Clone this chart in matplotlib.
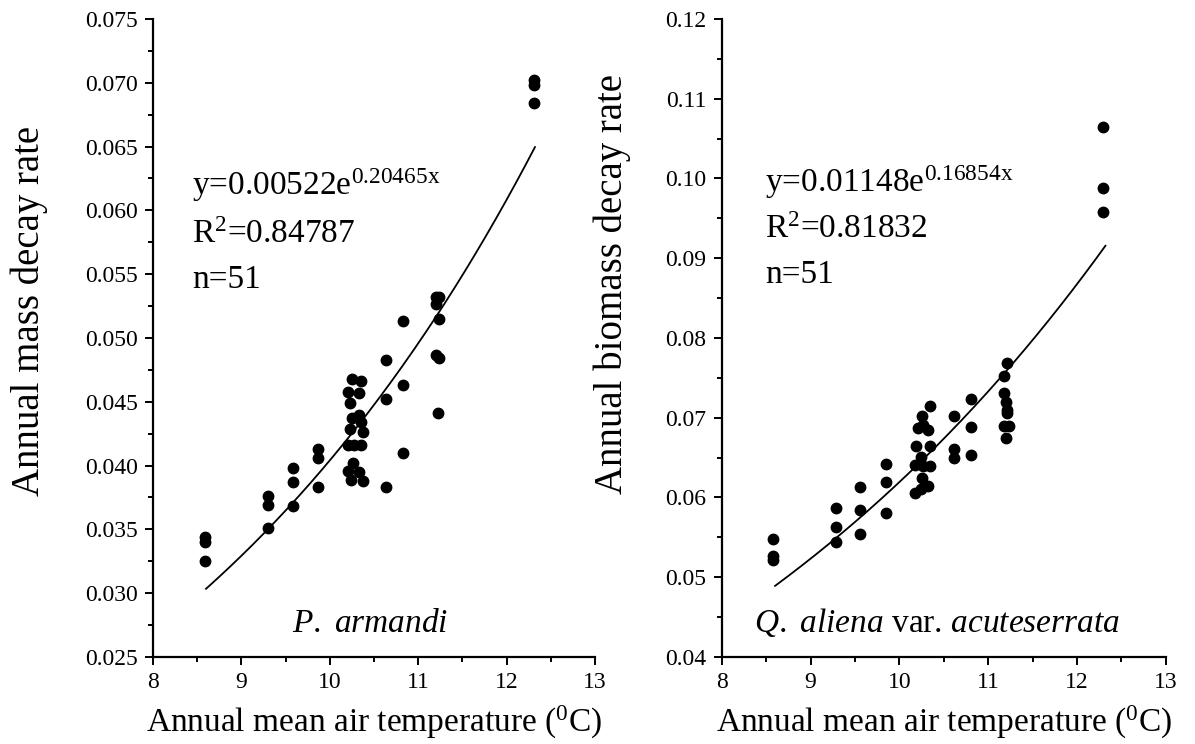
import matplotlib
matplotlib.use("Agg")
import matplotlib.pyplot as plt
import numpy as np

plt.rcParams['font.family'] = ['Liberation Serif', 'DejaVu Serif']
plt.rcParams['mathtext.fontset'] = 'custom'
plt.rcParams['mathtext.rm'] = 'Liberation Serif'
plt.rcParams['mathtext.it'] = 'Liberation Serif:italic'
plt.rcParams['mathtext.default'] = 'regular'

# P. armandi: temperature vs annual mass decay rate
pa_temp = [8.59, 8.59, 8.59, 9.30, 9.30, 9.30, 9.58, 9.58, 9.58, 9.87, 9.87, 9.87,
           10.25, 10.35, 10.20, 10.33, 10.23, 10.33, 10.25, 10.35, 10.23, 10.37,
           10.20, 10.27, 10.35, 10.26, 10.20, 10.33, 10.24, 10.37,
           10.63, 10.63, 10.63, 10.83, 10.83, 10.83,
           11.20, 11.24, 11.20, 11.24, 11.20, 11.24, 11.22,
           12.31, 12.31, 12.31]
pa_rate = [0.0344, 0.0340, 0.0325, 0.0376, 0.0369, 0.0351, 0.0398, 0.0387, 0.0368,
           0.0413, 0.0406, 0.0383,
           0.0468, 0.0466, 0.0458, 0.0457, 0.0449, 0.0440, 0.0437, 0.0434, 0.0429,
           0.0426, 0.0416, 0.0416, 0.0416, 0.0402, 0.0396, 0.0395, 0.0389, 0.0388,
           0.0483, 0.0452, 0.0383, 0.0513, 0.0463, 0.0410,
           0.0532, 0.0532, 0.0527, 0.0515, 0.0487, 0.0484, 0.0441,
           0.0702, 0.0698, 0.0684]

# Q. aliena var. acuteserrata: temperature vs annual biomass decay rate
qa_temp = [8.58, 8.58, 8.58, 9.29, 9.29, 9.29, 9.56, 9.56, 9.56, 9.85, 9.85, 9.85,
           10.35, 10.25, 10.21, 10.32, 10.27, 10.19, 10.35, 10.24, 10.18, 10.27,
           10.35, 10.25, 10.32, 10.24, 10.18,
           10.61, 10.61, 10.61, 10.81, 10.81, 10.81,
           11.21, 11.18, 11.18, 11.20, 11.21, 11.21, 11.18, 11.23, 11.20,
           12.29, 12.29, 12.29]
qa_rate = [0.0548, 0.0527, 0.0521, 0.0587, 0.0563, 0.0544, 0.0613, 0.0584, 0.0554,
           0.0642, 0.0619, 0.0581,
           0.0715, 0.0702, 0.0687, 0.0685, 0.0691, 0.0664, 0.0665, 0.0651, 0.0641,
           0.0639, 0.0639, 0.0624, 0.0614, 0.0610, 0.0605,
           0.0702, 0.0661, 0.0649, 0.0723, 0.0688, 0.0653,
           0.0769, 0.0752, 0.0731, 0.0720, 0.0710, 0.0706, 0.0690, 0.0690, 0.0675,
           0.1064, 0.0988, 0.0958]

# fitted curves y = a * exp(b * x), R^2, n
pa_fit = (0.00522, 0.20465, 0.84787, 51)
qa_fit = (0.01148, 0.16854, 0.81832, 51)

fig = plt.figure(figsize=(11.95, 7.44), dpi=100)
ax1 = fig.add_axes([0.128, 0.117, 0.370, 0.8575])
ax2 = fig.add_axes([0.604, 0.117, 0.3716, 0.8575])

panels = [
    dict(ax=ax1, tx=pa_temp, ty=pa_rate, fit=pa_fit, ylim=(0.025, 0.075), ystep=0.005,
         yfmt='%.3f', ylabel='Annual mass decay rate', ylab_pos=(-0.238, 0.542),
         species=r'$\mathit{P.}$ $\mathit{armandi}$', sp_x=0.491,
         txt_x=0.088, txt_y=[0.724, 0.649, 0.578]),
    dict(ax=ax2, tx=qa_temp, ty=qa_rate, fit=qa_fit, ylim=(0.04, 0.12), ystep=0.01,
         yfmt='%.2f', ylabel='Annual biomass decay rate', ylab_pos=(-0.205, 0.585),
         species=r'$\mathit{Q.}$ $\mathit{aliena}$ var. $\mathit{acuteserrata}$', sp_x=0.485,
         txt_x=0.097, txt_y=[0.729, 0.657, 0.586]),
]

for p in panels:
    ax = p['ax']
    a, b, r2, n = p['fit']
    ax.plot(p['tx'], p['ty'], 'o', color='black', ms=7.5, zorder=3)
    xs = np.linspace(8.6, 12.32, 200)
    ax.plot(xs, a * np.exp(b * xs), color='black', lw=1.3)

    ylim, ystep = p['ylim'], p['ystep']
    ax.set_xlim(8, 13)
    ax.set_ylim(*ylim)
    ax.set_xticks(np.arange(8, 13.1, 1))
    ax.set_xticks(np.arange(8.5, 13, 1), minor=True)
    yt = np.arange(ylim[0], ylim[1] + ystep / 2, ystep)
    ax.set_yticks(yt)
    ax.set_yticklabels([p['yfmt'] % v for v in yt])
    ax.set_yticks(yt[:-1] + ystep / 2, minor=True)

    for s in ['top', 'right']:
        ax.spines[s].set_visible(False)
    for s in ['left', 'bottom']:
        ax.spines[s].set_linewidth(1.6)
    ax.tick_params(which='major', direction='out', length=6, width=1.4,
                   labelsize=17, pad=5)
    ax.tick_params(which='minor', direction='out', length=3.5, width=1.4)

    ax.set_xlabel(r'Annual mean air temperature ($^0$C)', fontsize=24, labelpad=8)
    ax.set_ylabel(p['ylabel'], fontsize=28)
    ax.yaxis.set_label_coords(*p['ylab_pos'])

    lines = ['y=%ge$^{%gx}$' % (a, b), 'R$^2$=%g' % r2, 'n=%d' % n]
    for t, yy in zip(lines, p['txt_y']):
        ax.text(p['txt_x'], yy, t, transform=ax.transAxes,
                fontsize=24, va='baseline', ha='left')
    ax.text(p['sp_x'], 0.039, p['species'], transform=ax.transAxes, fontsize=24,
            ha='center', va='baseline')

fig.savefig('out.png', dpi=100)
